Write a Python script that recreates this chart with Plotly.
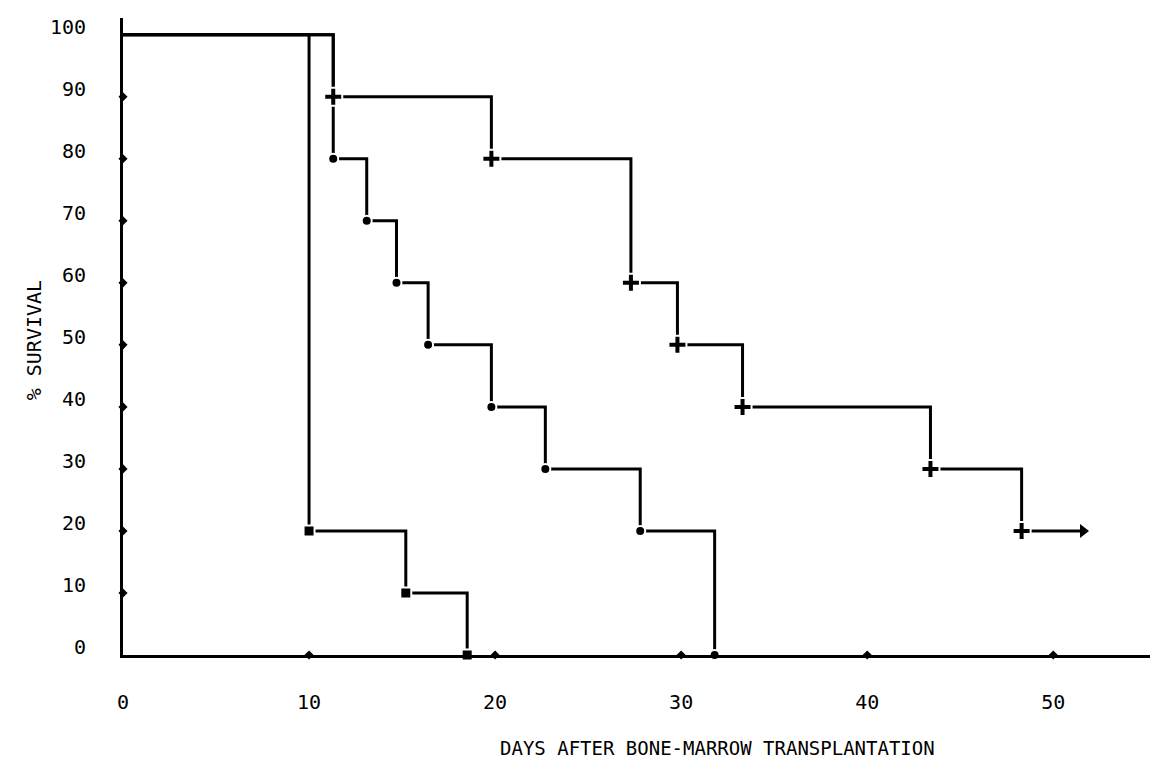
import plotly.graph_objects as go

# ---- data ----
x_ticks = [0, 10, 20, 30, 40, 50]
y_ticks = [0, 10, 20, 30, 40, 50, 60, 70, 80, 90, 100]

square_days = [0, 10.0, 15.2, 18.5]
square_surv = [100, 20, 10, 0]

circle_days = [0, 11.3, 13.1, 14.7, 16.4, 19.8, 22.7, 27.8, 31.8]
circle_surv = [100, 80, 70, 60, 50, 40, 30, 20, 0]

plus_days = [0, 11.3, 19.8, 27.3, 29.8, 33.3, 43.4, 48.3]
plus_surv = [100, 90, 80, 60, 50, 40, 30, 20]
plus_followup_end = 51.6  # arrow: still alive at end of follow-up

FONT = "DejaVu Sans Mono"
LW = 3

fig = go.Figure()

# step lines
line_style = dict(color="black", width=LW, shape="hv")
fig.add_trace(go.Scatter(x=square_days, y=square_surv, mode="lines",
                         line=line_style, hoverinfo="skip"))
fig.add_trace(go.Scatter(x=circle_days, y=circle_surv, mode="lines",
                         line=line_style, hoverinfo="skip"))
fig.add_trace(go.Scatter(x=plus_days + [plus_followup_end],
                         y=plus_surv + [plus_surv[-1]], mode="lines",
                         line=line_style, hoverinfo="skip"))

# markers (white outline gives the small gaps around each symbol)
fig.add_trace(go.Scatter(x=square_days[1:], y=square_surv[1:], mode="markers",
                         marker=dict(symbol="square", size=11, color="black",
                                     line=dict(color="white", width=2)),
                         cliponaxis=False))
fig.add_trace(go.Scatter(x=circle_days[1:], y=circle_surv[1:], mode="markers",
                         marker=dict(symbol="circle", size=10, color="black",
                                     line=dict(color="white", width=2)),
                         cliponaxis=False))
fig.add_trace(go.Scatter(x=plus_days[1:], y=plus_surv[1:], mode="markers",
                         marker=dict(symbol="cross", size=15, color="black",
                                     line=dict(color="white", width=2)),
                         cliponaxis=False))
fig.add_trace(go.Scatter(x=[plus_followup_end], y=[plus_surv[-1]], mode="markers",
                         marker=dict(symbol="triangle-right", size=12, color="black"),
                         cliponaxis=False))

# small tick dots sitting on the axes
fig.add_trace(go.Scatter(x=[0] * (len(y_ticks) - 2), y=y_ticks[1:-1], mode="markers",
                         marker=dict(symbol="diamond", size=7, color="black"),
                         cliponaxis=False))
fig.add_trace(go.Scatter(x=x_ticks[1:], y=[0] * (len(x_ticks) - 1), mode="markers",
                         marker=dict(symbol="diamond", size=7, color="black"),
                         cliponaxis=False))

fig.update_layout(
    width=1156, height=777,
    margin=dict(l=123, r=6, t=18, b=122),
    paper_bgcolor="white", plot_bgcolor="white",
    showlegend=False,
    font=dict(family=FONT, size=20, color="black"),
    xaxis=dict(range=[0, 55.2], tickvals=x_ticks, ticktext=[str(v) for v in x_ticks],
               showgrid=False, zeroline=False, showline=True, linecolor="black",
               linewidth=LW, ticks="", ticklabelstandoff=27,
               tickfont=dict(family=FONT, size=20)),
    yaxis=dict(range=[0, 102.7], tickvals=y_ticks, ticktext=[str(v) for v in y_ticks],
               showgrid=False, zeroline=False, showline=True, linecolor="black",
               linewidth=LW, ticks="", ticklabelstandoff=30, ticklabelshift=-8,
               tickfont=dict(family=FONT, size=20)),
    annotations=[
        dict(text="% SURVIVAL", xref="paper", yref="paper", x=0, y=0.494,
             xshift=-103, textangle=-90, showarrow=False,
             font=dict(family=FONT, size=20)),
        dict(text="DAYS AFTER BONE-MARROW TRANSPLANTATION", xref="paper", yref="paper",
             x=(717 - 123) / 1027, y=0, yshift=-93, showarrow=False,
             xanchor="center", yanchor="middle",
             font=dict(family=FONT, size=19)),
    ],
)

fig.write_html("out.html")
